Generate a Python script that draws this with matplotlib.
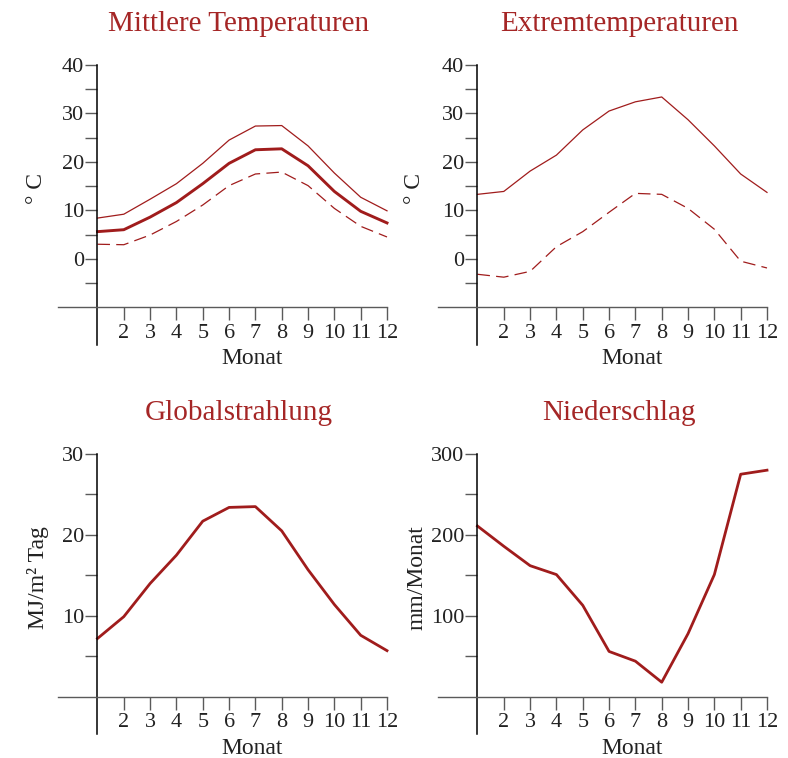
import matplotlib
matplotlib.use("Agg")
import matplotlib.pyplot as plt
from matplotlib.ticker import FixedLocator

plt.rcParams['font.family'] = ['Liberation Serif', 'DejaVu Serif']

monate = list(range(1, 13))
tick_monate = list(range(2, 13))

# Mittlere Temperaturen (°C)
temp_max_mittel = [8.4, 9.2, 12.3, 15.5, 19.7, 24.5, 27.4, 27.5, 23.3, 17.7, 12.7, 9.9]
temp_mittel = [5.6, 6.0, 8.6, 11.6, 15.5, 19.7, 22.5, 22.7, 19.2, 13.9, 9.8, 7.4]
temp_min_mittel = [3.0, 2.9, 4.9, 7.7, 11.1, 15.1, 17.5, 17.9, 15.1, 10.4, 6.7, 4.5]

# Extremtemperaturen (°C)
temp_extrem_max = [13.3, 13.9, 18.1, 21.4, 26.6, 30.5, 32.4, 33.4, 28.7, 23.3, 17.5, 13.7]
temp_extrem_min = [-3.2, -3.8, -2.6, 2.5, 5.6, 9.6, 13.5, 13.3, 10.4, 6.1, -0.5, -1.9]

# Globalstrahlung (MJ/m² Tag)
strahlung = [7.2, 9.9, 14.0, 17.5, 21.7, 23.4, 23.5, 20.5, 15.7, 11.4, 7.6, 5.7]

# Niederschlag (mm/Monat)
niederschlag = [211, 186, 162, 151, 113, 56, 44, 18, 78, 151, 275, 280]

rot = '#a01c1c'
titel_rot = '#a52626'
grau = '#5a5a5a'
text_farbe = '#222222'

fig = plt.figure(figsize=(7.88, 7.58), dpi=100)
W, H = 788, 758


def make_axes(px_left, px_top, px_right, px_bottom):
    return fig.add_axes([px_left / W, 1 - px_bottom / H,
                         (px_right - px_left) / W, (px_bottom - px_top) / H])


def style_axes(ax, ylim, x_axis_y, major, minor, title, ylabel, ylabel_x):
    ax.set_xlim(-0.5, 12)
    ax.set_ylim(*ylim)
    ax.patch.set_alpha(0)
    for s in ('top', 'right'):
        ax.spines[s].set_visible(False)
    ax.spines['left'].set_position(('data', 1))
    ax.spines['left'].set_color('black')
    ax.spines['left'].set_linewidth(1.1)
    ax.spines['bottom'].set_position(('data', x_axis_y))
    ax.spines['bottom'].set_color(grau)
    ax.spines['bottom'].set_linewidth(1.0)
    ax.xaxis.set_major_locator(FixedLocator(tick_monate))
    ax.yaxis.set_major_locator(FixedLocator(major))
    ax.yaxis.set_minor_locator(FixedLocator(minor))
    ax.tick_params(axis='x', direction='out', length=9, width=1.0, color=grau,
                   labelsize=16, labelcolor=text_farbe, pad=3)
    ax.tick_params(axis='y', which='both', direction='out', length=9, width=1.0,
                   color=grau, labelsize=16, labelcolor=text_farbe, pad=0.5)
    ax.set_title(title, color=titel_rot, fontsize=21, x=0.55, y=1.09)
    ax.text(0.59, -0.05, 'Monat', transform=ax.transAxes, ha='center',
            va='center', fontsize=17, color=text_farbe)
    ax.text(ylabel_x, 0.56, ylabel, transform=ax.transAxes, ha='center',
            va='center', rotation=90, fontsize=17, color=text_farbe)


# Mittlere Temperaturen
ax1 = make_axes(58, 65, 387, 345)
style_axes(ax1, (-17.8, 40), -10, [0, 10, 20, 30, 40], [-5, 5, 15, 25, 35],
           'Mittlere Temperaturen', '° C', -0.065)
ax1.plot(monate, temp_max_mittel, color=rot, lw=0.9, clip_on=False)
ax1.plot(monate, temp_mittel, color=rot, lw=2.1, clip_on=False)
ax1.plot(monate, temp_min_mittel, color=rot, lw=0.9, dashes=(10, 5), clip_on=False)

# Extremtemperaturen
ax2 = make_axes(438, 65, 767, 345)
style_axes(ax2, (-17.8, 40), -10, [0, 10, 20, 30, 40], [-5, 5, 15, 25, 35],
           'Extremtemperaturen', '° C', -0.07)
ax2.plot(monate, temp_extrem_max, color=rot, lw=0.9, clip_on=False)
ax2.plot(monate, temp_extrem_min, color=rot, lw=0.9, dashes=(10, 5), clip_on=False)

# Globalstrahlung
ax3 = make_axes(58, 454, 387, 734)
style_axes(ax3, (-4.6, 30), 0, [10, 20, 30], [5, 15, 25],
           'Globalstrahlung', 'MJ/m² Tag', -0.06)
ax3.plot(monate, strahlung, color=rot, lw=2.0, clip_on=False)

# Niederschlag
ax4 = make_axes(438, 454, 767, 734)
style_axes(ax4, (-46, 300), 0, [100, 200, 300], [50, 150, 250],
           'Niederschlag', 'mm/Monat', -0.065)
ax4.plot(monate, niederschlag, color=rot, lw=2.0, clip_on=False)

fig.savefig('out.png', dpi=100)
